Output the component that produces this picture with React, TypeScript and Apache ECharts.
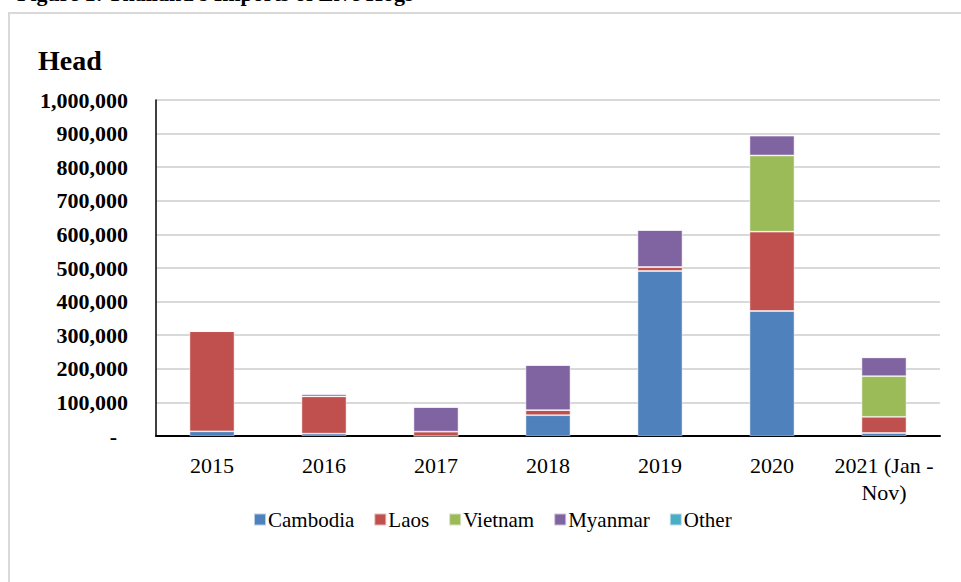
import React, { useEffect, useRef } from "react";
import * as echarts from "echarts";

const categories = ["2015", "2016", "2017", "2018", "2019", "2020", "2021 (Jan -\nNov)"];
const cambodia = [14000, 7000, 0, 62000, 491000, 372000, 9000];
const laos = [298000, 111000, 13000, 15000, 12000, 236000, 48000];
const vietnam = [0, 0, 0, 0, 0, 227000, 121000];
const myanmar = [0, 7000, 73000, 134000, 110000, 59000, 56000];
const other = [0, 0, 0, 0, 0, 0, 0];

const seriesNames = ["Cambodia", "Laos", "Vietnam", "Myanmar", "Other"];
const seriesColors = ["#4F81BD", "#C0504D", "#9BBB59", "#8064A2", "#4BACC6"];
const seriesData = [cambodia, laos, vietnam, myanmar, other];

const FONT = "'Liberation Serif', 'Times New Roman', serif";

export default function App() {
  const ref = useRef<HTMLDivElement>(null);
  useEffect(() => {
    document.body.style.margin = "0";
    const chart = echarts.init(ref.current!, null, { renderer: "svg" });
    chart.setOption({
      animation: false,
      backgroundColor: "#fff",
      graphic: [
        {
          type: "rect",
          shape: { x: 9, y: 13, width: 980, height: 620 },
          style: { fill: "none", stroke: "#d9d9d9", lineWidth: 2 },
          silent: true,
        },
        {
          type: "text",
          x: 17,
          y: 4,
          style: {
            text: "Figure 1: Thailand's Imports of Live Hogs",
            font: `bold 22px ${FONT}`,
            fill: "#000",
            verticalAlign: "bottom",
          },
        },
        {
          type: "text",
          x: 38,
          y: 60,
          style: {
            text: "Head",
            font: `bold 28px ${FONT}`,
            fill: "#000",
            verticalAlign: "middle",
          },
        },
      ],
      grid: { left: 156, right: 21, top: 100, bottom: 146, containLabel: false },
      legend: {
        left: 248,
        top: 504,
        itemWidth: 12,
        itemHeight: 12,
        itemGap: 19,
        icon: "rect",
        textStyle: { fontFamily: FONT, fontSize: 21, color: "#000", padding: [0, 0, 0, -3] },
        data: seriesNames,
      },
      xAxis: {
        type: "category",
        data: categories,
        axisLine: { lineStyle: { color: "#000", width: 2 } },
        axisTick: { show: false },
        axisLabel: {
          fontFamily: FONT,
          fontSize: 22,
          color: "#000",
          lineHeight: 27,
          margin: 16,
          interval: 0,
        },
      },
      yAxis: {
        type: "value",
        min: 0,
        max: 1000000,
        interval: 100000,
        axisLine: { show: true, lineStyle: { color: "#000", width: 1.5 } },
        axisTick: { show: false },
        splitLine: { lineStyle: { color: "#d9d9d9", width: 2 } },
        axisLabel: {
          margin: 28,
          fontFamily: FONT,
          fontSize: 22,
          fontWeight: "bold",
          color: "#000",
          formatter: (v: number) => (v === 0 ? "{d|-}" : v.toLocaleString("en-US")),
          rich: {
            d: {
              fontFamily: FONT,
              fontSize: 22,
              fontWeight: "bold",
              color: "#000",
              padding: [0, 11, 0, 0],
            },
          },
        },
      },
      series: seriesNames.map((name, i) => ({
        name,
        type: "bar",
        stack: "total",
        barWidth: 45,
        data: seriesData[i],
        itemStyle: {
          color: seriesColors[i],
          borderColor: "rgba(255,255,255,0.6)",
          borderWidth: 0.8,
        },
      })),
    });
    return () => chart.dispose();
  }, []);
  return <div ref={ref} style={{ width: 961, height: 582 }} />;
}
